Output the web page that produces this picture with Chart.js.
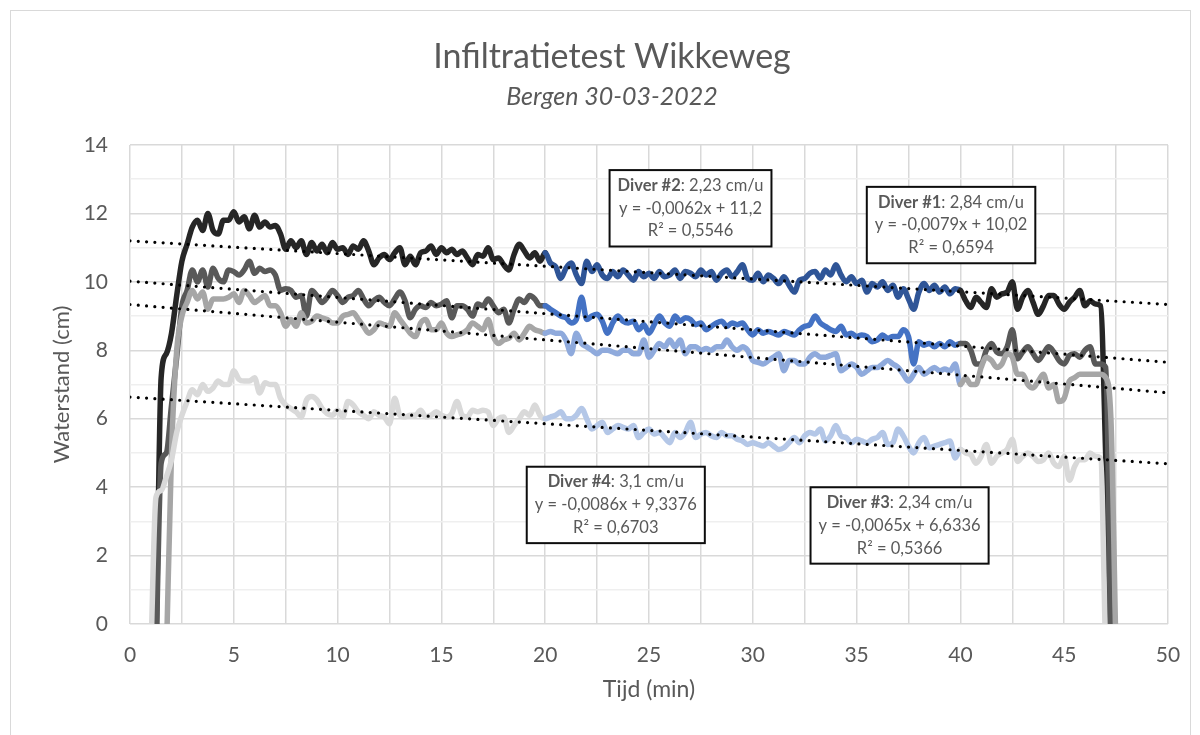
<!DOCTYPE html>
<html><head><meta charset="utf-8">
<script src="https://cdn.jsdelivr.net/npm/chart.js@4.4.1/dist/chart.umd.min.js"></script>
<style>
html,body{margin:0;padding:0;background:#fff;width:1200px;height:735px;overflow:hidden;}
#frame{position:absolute;left:10px;top:10px;width:1181px;height:740px;border:1px solid #d9d9d9;box-sizing:border-box;}
#wrap{position:absolute;left:24px;top:0;width:1176px;height:735px;}
</style></head><body>
<div id="frame"></div>
<div id="wrap"><canvas id="c" width="1176" height="735"></canvas></div>
<script>
// sampling grid of the logger data (minutes)
const T_START = 1.0;
const T_STEP = 0.25;

// Water level (cm), one row per minute (4 samples)
const diver2 = [
 null,-1,7.2,7.9,
 8.5,9.6,10.6,11.1,
 11.6,11.8,11.5,12.0,
 11.5,11.4,11.8,11.8,
 12.05,11.75,11.9,11.55,
 11.95,11.6,11.75,11.6,
 11.65,11.4,10.95,11.2,
 11.0,11.2,10.8,11.15,
 10.9,11.1,10.85,11.15,
 10.95,11.0,10.8,11.05,
 10.95,11.2,10.9,10.5,
 10.7,10.8,10.65,10.85,
 11.0,10.5,10.75,10.5,
 10.85,10.9,11.05,10.8,
 11.0,10.85,10.95,10.8,
 10.9,10.7,10.5,10.8,
 10.75,11.0,10.65,10.7,
 10.5,10.35,10.8,11.1,
 10.9,10.7,10.85,10.6,
 10.85,10.55,10.45,10.1,
 10.4,10.55,10.2,9.95,
 10.6,10.3,10.5,10.2,
 10.1,10.3,10.15,10.35,
 10.2,10.05,10.3,10.15,
 10.25,10.1,10.3,10.15,
 10.2,10.35,10.1,10.3,
 10.25,10.15,10.35,10.2,
 10.3,10.05,10.25,10.35,
 10.15,10.3,10.5,10.1,
 10.05,10.25,10.0,10.2,
 10.1,9.95,10.15,9.9,
 9.7,10.05,10.1,10.25,
 10.3,10.1,10.35,10.2,
 10.5,10.2,10.0,10.15,
 9.95,10.05,9.7,9.95,
 9.85,10.0,9.75,9.9,
 9.55,9.8,9.5,9.2,
 9.7,9.95,9.75,9.9,
 9.7,9.85,9.65,9.8,
 9.75,9.45,9.25,9.55,
 9.4,9.25,9.8,9.55,
 9.65,9.7,10.0,9.2,
 9.55,9.75,9.4,9.05,
 9.3,9.6,9.6,9.35,
 9.2,9.4,9.55,9.75,
 9.3,9.45,9.35,9.3,
 4.9,-1,null
];
const diver1 = [
 null,-1,4.7,5.0,
 6.4,7.8,9.3,9.75,
 10.35,10.0,10.35,9.85,
 10.4,10.1,10.0,10.35,
 10.3,10.2,10.35,10.6,
 10.25,10.4,10.3,10.35,
 10.2,9.75,9.8,9.75,
 9.55,9.6,9.0,9.75,
 9.6,9.4,9.55,9.75,
 9.6,9.4,9.55,9.6,
 9.75,9.5,9.3,9.45,
 9.55,9.4,9.3,9.5,
 9.7,9.45,8.95,9.2,
 9.3,9.25,9.4,9.3,
 9.35,9.45,8.95,9.3,
 9.3,9.2,9.0,9.35,
 9.3,9.5,9.3,9.1,
 9.2,8.8,9.2,9.5,
 9.4,9.6,9.5,9.3,
 9.3,9.2,9.1,9.0,
 8.95,8.8,8.9,9.55,
 8.9,9.0,9.05,8.85,
 8.5,8.8,9.0,8.85,
 8.8,8.85,8.6,8.75,
 8.5,8.75,9.0,8.8,
 8.7,9.0,8.85,8.95,
 8.9,8.75,8.8,8.6,
 8.7,8.8,8.85,8.7,
 8.8,8.75,8.8,8.6,
 8.45,8.6,8.5,8.55,
 8.5,8.45,8.55,8.5,
 8.45,8.6,8.7,8.75,
 9.0,8.8,8.7,8.6,
 8.55,8.7,8.45,8.5,
 8.4,8.45,8.4,8.25,
 8.3,8.45,8.35,8.4,
 8.4,8.6,8.4,7.6,
 8.25,8.15,8.2,8.1,
 8.2,8.1,8.25,8.15,
 8.2,8.2,8.0,7.6,
 7.6,8.0,8.2,7.95,
 7.9,8.1,8.6,7.75,
 7.95,8.1,7.9,7.7,
 7.9,8.1,7.95,7.7,
 7.6,7.85,7.9,7.8,
 8.0,8.1,7.6,7.6,
 7.5,-1,null
];
const diver4 = [
 null,null,null,-1,
 5.0,8.0,9.0,9.4,
 9.75,9.5,9.7,9.2,
 9.5,9.5,9.5,9.55,
 9.65,9.4,9.75,9.6,
 9.4,9.5,9.6,9.3,
 9.3,9.1,8.7,8.9,
 8.7,9.1,8.8,8.85,
 9.0,8.95,8.9,8.8,
 8.8,9.0,9.05,9.1,
 8.9,8.7,8.5,8.6,
 8.8,8.75,8.7,9.1,
 8.9,8.7,8.5,8.4,
 8.8,8.9,8.6,8.6,
 8.8,8.5,8.4,8.45,
 8.5,8.6,8.8,8.7,
 8.6,8.9,8.4,8.2,
 8.3,8.35,8.5,8.3,
 8.5,8.7,8.6,8.55,
 8.5,8.55,8.5,8.5,
 8.3,7.9,8.5,8.2,
 8.1,8.0,7.9,8.0,
 8.0,7.95,7.9,8.0,
 8.0,7.9,7.9,8.3,
 7.8,8.0,8.2,8.1,
 8.3,8.1,8.3,7.9,
 8.1,8.1,8.0,8.05,
 8.0,8.1,8.1,8.3,
 8.1,8.0,8.1,8.0,
 7.7,7.65,7.6,7.7,
 7.8,7.9,7.4,7.7,
 7.7,7.6,7.6,7.8,
 7.9,7.8,7.8,7.85,
 7.9,7.4,7.5,7.6,
 7.5,7.3,7.4,7.5,
 7.5,7.6,7.7,7.6,
 7.5,7.3,7.1,7.3,
 7.5,7.3,7.4,7.5,
 7.4,7.45,7.4,7.6,
 7.0,7.2,7.0,7.0,
 7.5,7.8,7.7,7.5,
 7.6,7.9,7.8,7.3,
 7.3,7.0,6.9,7.1,
 7.3,6.9,7.0,6.5,
 6.6,7.1,7.2,7.3,
 7.3,7.3,7.3,7.3,
 7.2,6.0,-1
];
const diver3 = [
 -1,3.7,3.9,4.3,
 4.8,5.6,6.1,6.5,
 6.85,6.7,7.0,6.8,
 6.9,7.1,7.0,7.0,
 7.4,7.15,7.1,7.1,
 7.2,6.75,7.05,7.0,
 7.0,6.6,6.4,6.3,
 6.2,6.05,6.55,6.65,
 6.55,6.3,6.15,6.1,
 6.25,6.05,6.5,6.4,
 6.2,6.1,6.0,6.2,
 6.1,6.05,5.85,6.6,
 6.1,6.05,6.1,6.1,
 6.25,6.05,6.1,6.2,
 6.1,6.05,6.15,6.5,
 6.1,6.05,6.25,6.2,
 6.25,6.2,5.8,6.0,
 6.05,5.6,5.8,6.0,
 6.2,6.1,6.4,6.1,
 6.0,6.05,6.1,6.2,
 6.0,6.0,6.1,6.3,
 6.0,5.7,5.8,5.9,
 5.6,5.7,5.8,5.75,
 5.7,5.8,5.45,5.6,
 5.7,5.55,5.6,5.45,
 5.3,5.6,5.45,5.6,
 5.9,5.45,5.55,5.6,
 5.5,5.45,5.6,5.5,
 5.5,5.4,5.35,5.25,
 5.3,5.25,5.2,5.3,
 5.2,5.1,5.15,5.3,
 5.45,5.3,5.5,5.6,
 5.55,5.7,5.35,5.5,
 5.8,5.5,5.45,5.3,
 5.4,5.35,5.3,5.4,
 5.45,5.6,5.25,5.3,
 5.7,5.5,5.2,5.0,
 5.3,5.45,5.15,5.2,
 5.25,5.3,5.35,4.85,
 5.1,5.0,4.95,4.7,
 4.9,5.25,4.7,4.9,
 5.0,5.1,5.4,4.75,
 4.9,5.0,4.9,4.75,
 4.8,5.0,4.7,4.6,
 4.9,4.2,4.6,4.8,
 4.8,5.0,4.9,4.85,
 -1,null,null
];

// regression window (min) shown in blue
const FIT_FROM = 20, FIT_TO = 40;
// linear fits: x in samples of 10 s
const SAMPLES_PER_MIN = 6;
const diverNames = ['Diver #2','Diver #1','Diver #4','Diver #3'];
const rates = ['2,23 cm/u','2,84 cm/u','3,1 cm/u','2,34 cm/u'];
const slopes = [-0.0062,-0.0079,-0.0086,-0.0065];
const intercepts = [11.2,10.02,9.3376,6.6336];
const equations = ['y = -0,0062x + 11,2','y = -0,0079x + 10,02','y = -0,0086x + 9,3376','y = -0,0065x + 6,6336'];
const r2 = ['0,5546','0,6594','0,6703','0,5366'];

const series = [diver2, diver1, diver4, diver3];
const grayCols = ['#262626','#595959','#a6a6a6','#d9d9d9'];
const blueCols = ['#2f5597','#4472c4','#8faadc','#b4c7e7'];
const boxAnchors = [[27.0,12.15],[39.55,11.66],[23.4,3.48],[37.07,2.88]];

function pts(vals){const o=[];vals.forEach((v,i)=>{if(v!==null)o.push({x:T_START+i*T_STEP,y:v});});return o;}

const datasets = [];
slopes.forEach((m,k)=>{
  datasets.push({type:'line',data:[{x:0,y:intercepts[k]},{x:50,y:intercepts[k]+m*50*SAMPLES_PER_MIN}],
    borderColor:'#000',borderWidth:3.2,borderDash:[0,8.3],borderCapStyle:'round',pointRadius:0,order:0,tension:0});
});
series.forEach((vals,k)=>{
  datasets.push({data:pts(vals),borderWidth:5.5,pointRadius:0,order:4-k+1,
    cubicInterpolationMode:'monotone',borderCapStyle:'round',borderJoinStyle:'round',
    borderColor:grayCols[k],
    segment:{borderColor:c=>(c.p0.parsed.x>=FIT_FROM && c.p1.parsed.x<=FIT_TO)?blueCols[k]:grayCols[k]}});
});

const boxPlugin = {
  id:'fitBoxes',
  afterDatasetsDraw(chart){
    const {ctx,scales:{x,y}} = chart;
    ctx.save();
    const fs = 16.5, lh = 22.8;
    boxAnchors.forEach((a,k)=>{
      const cx = x.getPixelForValue(a[0]), cy = y.getPixelForValue(a[1]);
      ctx.font = `bold ${fs}px Lato`; const w1a = ctx.measureText(diverNames[k]).width;
      ctx.font = `${fs}px Lato`; const w1b = ctx.measureText(': '+rates[k]).width;
      const w2 = ctx.measureText(equations[k]).width;
      const w3 = ctx.measureText('R² = '+r2[k]).width;
      const w = Math.max(w1a+w1b,w2,w3)+16, h = 3*lh+8;
      ctx.fillStyle='#fff'; ctx.fillRect(cx-w/2,cy-h/2,w,h);
      ctx.strokeStyle='#0d0d0d'; ctx.lineWidth=2; ctx.strokeRect(cx-w/2,cy-h/2,w,h);
      ctx.fillStyle='#595959'; ctx.textBaseline='middle';
      const y1 = cy - lh;
      let sx = cx-(w1a+w1b)/2;
      ctx.textAlign='left';
      ctx.font = `bold ${fs}px Lato`; ctx.fillText(diverNames[k],sx,y1);
      ctx.font = `${fs}px Lato`; ctx.fillText(': '+rates[k],sx+w1a,y1);
      ctx.textAlign='center';
      ctx.fillText(equations[k],cx,cy);
      ctx.fillText('R² = '+r2[k],cx,cy+lh);
    });
    ctx.restore();
  }
};

function draw(){
Chart.defaults.font.family = 'Lato';
Chart.defaults.color = '#595959';
new Chart(document.getElementById('c'),{
  type:'line',
  data:{datasets},
  plugins:[boxPlugin],
  options:{
    responsive:false,animation:false,
    layout:{padding:{left:32,right:32,top:0,bottom:0}},
    plugins:{
      legend:{display:false},tooltip:{enabled:false},
      title:{display:true,text:'Infiltratietest Wikkeweg',color:'#595959',font:{size:34,weight:'normal',lineHeight:1.0},padding:{top:40,bottom:0}},
      subtitle:{display:true,text:'Bergen 30-03-2022',color:'#595959',font:{size:25,style:'italic',lineHeight:1.0},padding:{top:10,bottom:36}}
    },
    scales:{
      x:{type:'linear',min:0,max:50,
        afterFit:s=>{s.height=111;},
        ticks:{stepSize:2.5,autoSkip:false,maxRotation:0,padding:19,font:{size:21},color:'#595959',
          callback:v=>(v%5===0?String(v):'')},
        grid:{color:'#d9d9d9',lineWidth:1.5,drawTicks:false},
        border:{display:false},
        title:{display:true,text:'Tijd (min)',color:'#595959',font:{size:23},padding:{top:0,bottom:32}}},
      y:{min:0,max:14,
        afterFit:s=>{s.width=74;},
        ticks:{stepSize:1,autoSkip:false,padding:22,font:{size:21},color:'#595959',
          callback:v=>(v%2===0?String(v):'')},
        grid:{color:c=>(c.tick && c.tick.value%2===0)?'#d9d9d9':'#efefef',lineWidth:1.5,drawTicks:false},
        border:{display:false},
        title:{display:true,text:'Waterstand (cm)',color:'#595959',font:{size:22},padding:{top:-7.2,bottom:0}}}
    }
  }
});
}
Promise.all([document.fonts.load('20px Lato'),document.fonts.load('bold 20px Lato'),document.fonts.load('italic 20px Lato')]).then(draw,draw);
</script>
</body></html>
